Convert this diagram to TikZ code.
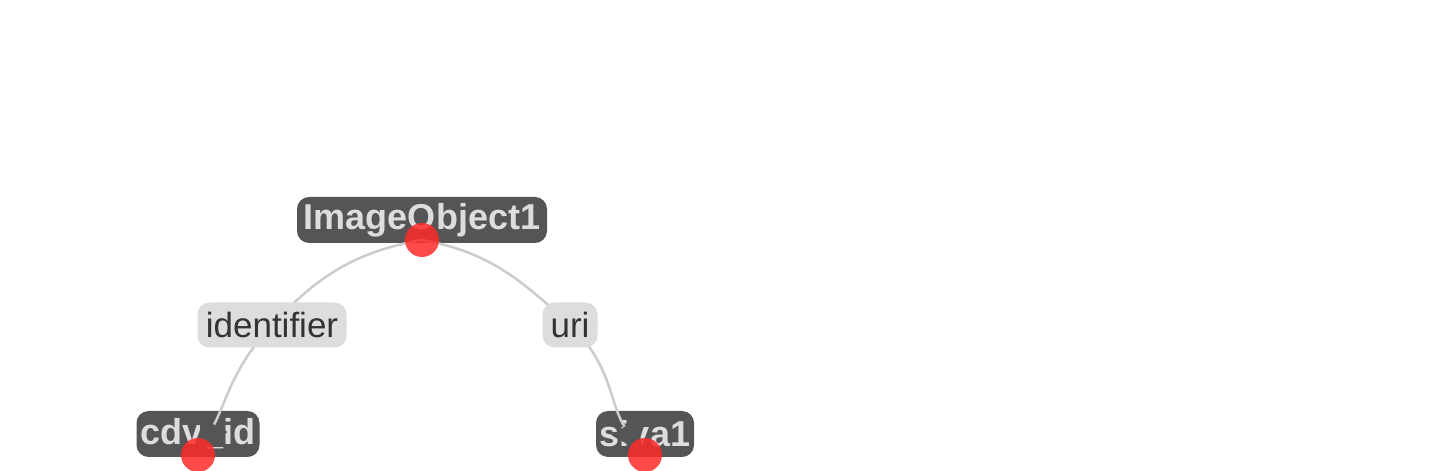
\documentclass[tikz,border=0pt]{standalone}
\usepackage{fontspec}
\setmainfont{Liberation Sans}
\usepackage{tikz}
\usetikzlibrary{positioning, arrows.meta, calc}
\usepackage{xcolor}
\definecolor{nodegray}{HTML}{555555}
\definecolor{lightgray}{HTML}{DDDDDD}
\definecolor{edgegray}{HTML}{CCCCCC}
\definecolor{labeltext}{HTML}{333333}
\definecolor{dotred}{HTML}{FF2A2A}
\pgfdeclarelayer{front}
\pgfsetlayers{main,front}

\begin{document}
\begin{tikzpicture}[
    x=1pt, y=1pt,
    entity/.style={rectangle, rounded corners=12pt, fill=nodegray, text=lightgray, inner sep=0pt, minimum height=46pt, font=\fontsize{36}{40}\selectfont\bfseries},
    relation/.style={rectangle, rounded corners=12pt, fill=lightgray, text=labeltext, inner sep=0pt, minimum height=45pt, font=\fontsize{35}{40}\selectfont},
    link/.style={draw=edgegray, line width=2.5pt, -{Triangle[length=32pt, width=30pt, fill=nodegray, color=nodegray]}},
    anchordot/.style={circle, fill=dotred, fill opacity=0.85, minimum size=34pt, inner sep=0pt}
]
    \useasboundingbox (0,0) rectangle (1440,471);

    \node[entity, minimum width=250pt] (img) at (422,251) {ImageObject1};
    \node[entity, minimum width=123pt] (cdv) at (198,37) {cdv\_id};
    \node[entity, minimum width=98pt] (siva) at (645,37) {siva1};

    \coordinate (imgout) at (422,231);
    \coordinate (cdvtip) at (199,18);
    \coordinate (sivatip) at (643,18);

    \begin{pgfonlayer}{front}
        \node[relation, minimum width=149pt] (identifier) at (272,146) {identifier};
        \node[relation, minimum width=55pt] (uri) at (570,146) {uri};
        \node[anchordot] (imgdot) at (imgout) {};
        \node[anchordot] (cdvdot) at (198,16) {};
        \node[anchordot] (sivadot) at (645,16) {};
    \end{pgfonlayer}

    \draw[link] (imgout) to[out=190, in=47] (identifier.center) to[out=227, in=62] (cdvtip);
    \draw[link] (imgout) to[out=-10, in=137] (uri.center) to[out=-43, in=125] (sivatip);
\end{tikzpicture}
\end{document}
